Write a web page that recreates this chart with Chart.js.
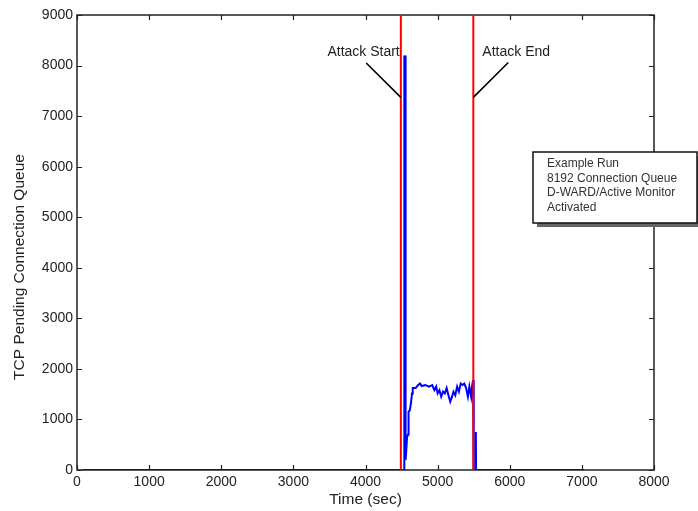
<!DOCTYPE html>
<html>
<head>
<meta charset="utf-8">
<script src="https://cdn.jsdelivr.net/npm/chart.js@4.4.1/dist/chart.umd.min.js"></script>
<style>
  html, body { margin: 0; padding: 0; background: #fff; }
  #wrap { width: 698px; height: 511px; }
</style>
</head>
<body>
<div id="wrap"><canvas id="queueChart" width="698" height="511"></canvas></div>
<script>
// sample times (sec) and TCP pending connection queue length
const timeSec = [80, 4535, 4535, 4542, 4548, 4556, 4566, 4576, 4590, 4597, 4615, 4630, 4645, 4655,
  4695, 4730, 4755, 4780, 4830, 4880, 4925, 4955, 4980, 5000, 5025, 5050, 5075, 5100, 5125, 5150,
  5175, 5200, 5220, 5245, 5270, 5295, 5320, 5345, 5370, 5395, 5420, 5440, 5465, 5480, 5492, 5500,
  5528, 5530, 5533, 7030];
const queueLen = [0, 0, 8200, 8100, 8200, 200, 400, 650, 700, 1150, 1185, 1320, 1515, 1620,
  1620, 1680, 1710, 1660, 1680, 1650, 1680, 1580, 1650, 1515, 1580, 1450, 1550, 1515, 1620, 1480,
  1350, 1450, 1550, 1480, 1650, 1550, 1710, 1680, 1710, 1620, 1450, 1650, 1450, 1680, 1780, 0,
  0, 750, 0, 0];

const attackStart = 4490;
const attackEnd = 5495;

const xRange = [0, 8000];
const yRange = [0, 9000];
const tickStep = 1000;

const xTitle = 'Time (sec)';
const yTitle = 'TCP Pending Connection Queue';
const noteLines = ['Example Run', '8192 Connection Queue', 'D-WARD/Active Monitor', 'Activated'];

const FONT = "'Liberation Sans', Arial, sans-serif";
const INK = '#222';

const points = timeSec.map((t, i) => ({ x: t, y: queueLen[i] }));
const vline = (x) => [{ x: x, y: yRange[0] }, { x: x, y: yRange[1] }];
const plainNumber = (v) => String(v);

// box with inward tick marks on all four sides, drawn under the data
const framePlugin = {
  id: 'frame',
  beforeDatasetsDraw(chart) {
    const { ctx, chartArea: a, scales: { x, y } } = chart;
    ctx.save();
    ctx.strokeStyle = INK;
    ctx.lineWidth = 1.5;
    ctx.strokeRect(a.left, a.top, a.right - a.left, a.bottom - a.top);
    ctx.lineWidth = 1.2;
    ctx.beginPath();
    x.ticks.forEach(t => {
      const p = Math.round(x.getPixelForValue(t.value)) + 0.5;
      ctx.moveTo(p, a.bottom); ctx.lineTo(p, a.bottom - 5);
      ctx.moveTo(p, a.top); ctx.lineTo(p, a.top + 5);
    });
    y.ticks.forEach(t => {
      const p = Math.round(y.getPixelForValue(t.value)) + 0.5;
      ctx.moveTo(a.left, p); ctx.lineTo(a.left + 5, p);
      ctx.moveTo(a.right, p); ctx.lineTo(a.right - 5, p);
    });
    ctx.stroke();
    ctx.restore();
  }
};

// attack labels with leader lines, y title and the run description box
const notesPlugin = {
  id: 'notes',
  afterDatasetsDraw(chart) {
    const { ctx, scales: { x, y } } = chart;
    const px = v => x.getPixelForValue(v);
    const py = v => y.getPixelForValue(v);
    ctx.save();

    ctx.fillStyle = INK;
    ctx.font = '14px ' + FONT;
    ctx.textBaseline = 'middle';
    ctx.textAlign = 'right';
    ctx.fillText('Attack Start', px(4475), py(8260));
    ctx.textAlign = 'left';
    ctx.fillText('Attack End', px(5620), py(8260));

    ctx.strokeStyle = '#000';
    ctx.lineWidth = 1.6;
    ctx.beginPath();
    ctx.moveTo(px(4010), py(8050)); ctx.lineTo(px(attackStart), py(7370));
    ctx.moveTo(px(5980), py(8060)); ctx.lineTo(px(attackEnd), py(7370));
    ctx.stroke();

    // y axis title
    ctx.save();
    ctx.translate(20, 267);
    ctx.rotate(-Math.PI / 2);
    ctx.textAlign = 'center';
    ctx.font = '15.5px ' + FONT;
    ctx.fillText(yTitle, 0, 0);
    ctx.restore();

    // description box with drop shadow
    const bx = 533, by = 152, bw = 164, bh = 71;
    ctx.fillStyle = '#666';
    ctx.fillRect(bx + 4, by + 4, bw, bh);
    ctx.fillStyle = '#fff';
    ctx.fillRect(bx, by, bw, bh);
    ctx.strokeStyle = '#111';
    ctx.lineWidth = 1.5;
    ctx.strokeRect(bx, by, bw, bh);
    ctx.fillStyle = '#333';
    ctx.font = '12px ' + FONT;
    ctx.textAlign = 'left';
    noteLines.forEach((s, i) => ctx.fillText(s, 547, 164 + i * 14.4));

    ctx.restore();
  }
};

new Chart(document.getElementById('queueChart'), {
  type: 'line',
  data: {
    datasets: [
      { data: vline(attackStart), borderColor: '#ff0000', borderWidth: 2, pointRadius: 0 },
      { data: vline(attackEnd), borderColor: '#ff0000', borderWidth: 2, pointRadius: 0 },
      { data: points, borderColor: '#0000ff', borderWidth: 2, pointRadius: 0, tension: 0 }
    ]
  },
  options: {
    responsive: false,
    animation: false,
    events: [],
    layout: { padding: { top: 15, right: 44, left: 0, bottom: 0 } },
    plugins: { legend: { display: false }, tooltip: { enabled: false } },
    scales: {
      x: {
        type: 'linear',
        min: xRange[0], max: xRange[1],
        afterFit: s => { s.height = 41; },
        grid: { display: false, drawTicks: false },
        border: { display: false },
        ticks: { stepSize: tickStep, autoSkip: false, maxRotation: 0, padding: 4,
          callback: plainNumber, color: INK, font: { family: FONT, size: 14 } },
        title: { display: true, text: xTitle, color: INK,
          font: { family: FONT, size: 15.5 }, padding: { top: 0, bottom: 2 } }
      },
      y: {
        type: 'linear',
        min: yRange[0], max: yRange[1],
        afterFit: s => { s.width = 77; },
        grid: { display: false, drawTicks: false },
        border: { display: false },
        ticks: { stepSize: tickStep, padding: 4, callback: plainNumber,
          color: INK, font: { family: FONT, size: 14 } }
      }
    }
  },
  plugins: [framePlugin, notesPlugin]
});
</script>
</body>
</html>
